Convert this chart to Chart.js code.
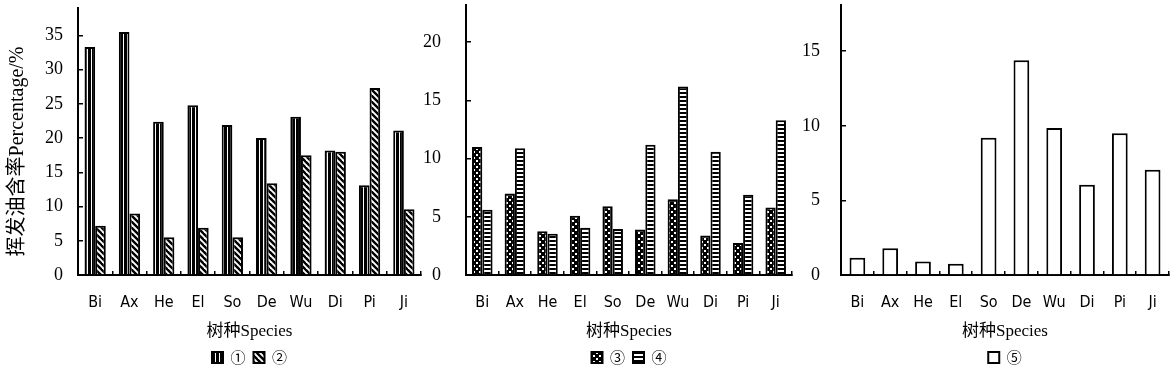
<!DOCTYPE html>
<html>
<head>
<meta charset="utf-8">
<script src="https://cdn.jsdelivr.net/npm/chart.js@4.4.1/dist/chart.umd.min.js"></script>
<style>
  body { margin: 0; background: #fff; width: 1176px; height: 380px; position: relative; overflow: hidden; }
  canvas { position: absolute; top: 0; }
</style>
</head>
<body>
<canvas id="c1" width="430" height="380" style="left:0px"></canvas>
<canvas id="c2" width="400" height="380" style="left:400px"></canvas>
<canvas id="c3" width="396" height="380" style="left:780px"></canvas>
<script>
// ---- data
var species = ['Bi', 'Ax', 'He', 'El', 'So', 'De', 'Wu', 'Di', 'Pi', 'Ji'];
var oil1 = [33.3, 35.5, 22.4, 24.8, 21.9, 20.0, 23.1, 18.2, 13.1, 21.1];
var oil2 = [7.2, 9.0, 5.5, 6.9, 5.5, 13.4, 17.5, 18.0, 27.3, 9.6];
var oil3 = [11.0, 7.0, 3.75, 5.1, 5.9, 3.9, 6.5, 3.4, 2.75, 5.8];
var oil4 = [5.6, 10.9, 3.55, 4.05, 3.95, 11.2, 16.2, 10.6, 6.9, 13.3];
var oil5 = [1.15, 1.8, 0.9, 0.75, 9.2, 14.4, 9.85, 6.05, 9.5, 7.05];
var seriesNames = ['①', '②', '③', '④', '⑤'];
var yMax = [39, 23.2, 18.1];
var yStep = 5;

var SERIF = "'Liberation Serif', 'Noto Sans CJK SC', serif";
var NARROW = "'Liberation Sans Narrow', 'DejaVu Sans Condensed', 'Liberation Sans', sans-serif";

// ---- hatch fills
function pattern(w, h, draw) {
  var c = document.createElement('canvas');
  c.width = w; c.height = h;
  var g = c.getContext('2d');
  g.fillStyle = '#fff'; g.fillRect(0, 0, w, h);
  g.fillStyle = '#000'; g.strokeStyle = '#000';
  draw(g);
  return g.createPattern(c, 'repeat');
}
var vStripe = pattern(4, 4, function (g) { g.fillRect(0, 0, 3, 4); });
var dStripe = pattern(6, 6, function (g) {
  g.lineWidth = 2.4;
  for (var i = -1; i <= 1; i++) {
    g.beginPath(); g.moveTo(i * 6 - 1, -1); g.lineTo(i * 6 + 7, 7); g.stroke();
  }
});
var checker = pattern(6, 6, function (g) {
  g.fillRect(0, 0, 6, 6);
  g.fillStyle = '#fff';
  g.fillRect(1, 1, 2, 2); g.fillRect(4, 4, 2, 2);
});
var hStripe = pattern(4, 4, function (g) { g.fillRect(0, 0, 4, 2); });

function bars(label, data, fill) {
  return { label: label, data: data, backgroundColor: fill, borderColor: '#000', borderWidth: 2 };
}

function makeChart(id, datasets, max, cfg) {
  var ctx = document.getElementById(id).getContext('2d');
  return new Chart(ctx, {
    type: 'bar',
    data: { labels: species, datasets: datasets },
    options: {
      responsive: false,
      animation: false,
      devicePixelRatio: 1,
      categoryPercentage: cfg.cat,
      barPercentage: 1,
      layout: { padding: { top: cfg.top, right: cfg.right, left: 0, bottom: 5 } },
      plugins: {
        tooltip: { enabled: false },
        legend: {
          position: 'bottom',
          fullSize: false,
          labels: {
            boxWidth: 11, boxHeight: 11, padding: 8, color: '#000',
            font: { size: 15, family: "'Noto Sans CJK SC', 'DejaVu Sans', sans-serif" }
          }
        }
      },
      scales: {
        x: {
          afterFit: function (s) { s.height = 67; s.paddingLeft = 0; s.paddingRight = 0; },
          border: { color: '#000', width: 2 },
          grid: { drawOnChartArea: false, tickLength: -4, color: '#000', lineWidth: 1.5 },
          ticks: { padding: 22, color: '#000', font: { size: 16, family: NARROW } },
          title: {
            display: true, text: '树种Species', color: '#000',
            padding: { top: 11, bottom: 0 },
            font: { size: 17, family: SERIF }
          }
        },
        y: {
          min: 0, max: max,
          afterFit: function (s) { s.width = cfg.yw; s.paddingTop = 0; s.paddingBottom = 0; },
          border: { color: '#000', width: 2 },
          grid: { drawOnChartArea: false, tickLength: -5, color: '#000', lineWidth: 1.5 },
          ticks: { stepSize: yStep, includeBounds: false, padding: cfg.tp, color: '#000',
                   font: { size: 18, family: SERIF } },
          title: cfg.ytitle ? {
            display: true, text: cfg.ytitle + '    ', color: '#000',
            padding: { top: 6, bottom: 0 },
            font: { size: 20, family: SERIF }
          } : { display: false }
        }
      }
    }
  });
}

makeChart('c1', [bars(seriesNames[0], oil1, vStripe), bars(seriesNames[1], oil2, dStripe)], yMax[0],
  { cat: 0.62, top: 8, right: 9, yw: 78, tp: 20, ytitle: '挥发油含率Percentage/%' });
makeChart('c2', [bars(seriesNames[2], oil3, checker), bars(seriesNames[3], oil4, hStripe)], yMax[1],
  { cat: 0.63, top: 5, right: 8, yw: 66, tp: 30 });
makeChart('c3', [bars(seriesNames[4], oil5, '#fff')], yMax[2],
  { cat: 0.48, top: 5, right: 7, yw: 61, tp: 26 });
</script>
</body>
</html>
